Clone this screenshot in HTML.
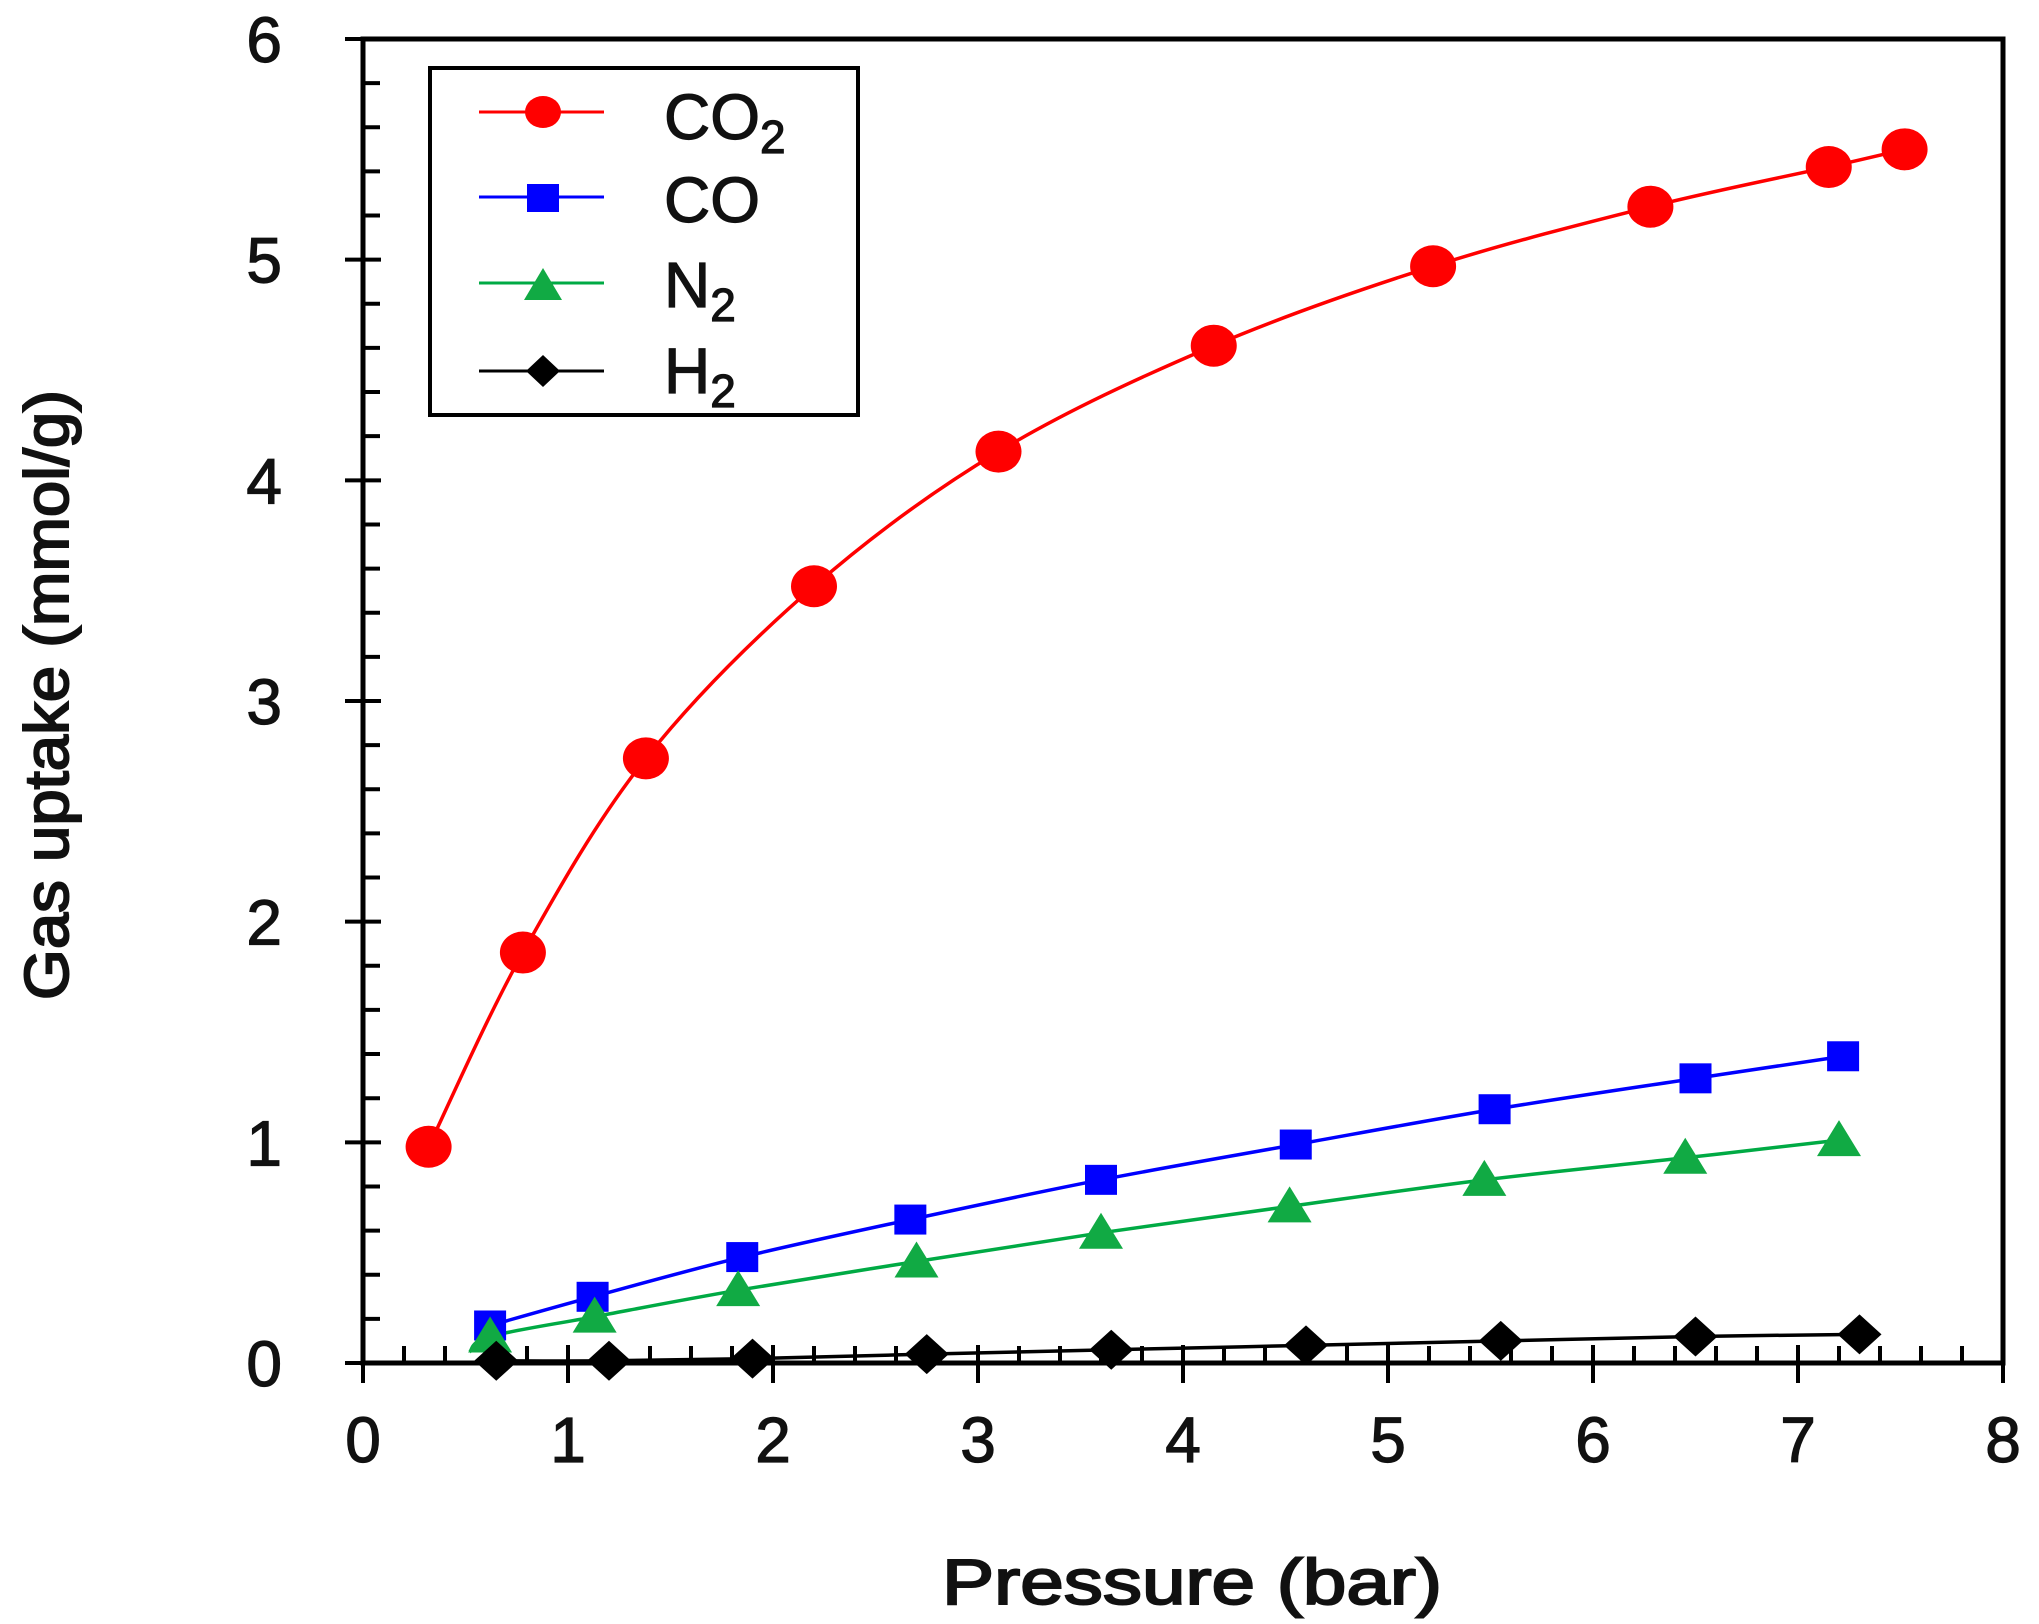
<!DOCTYPE html>
<html><head><meta charset="utf-8"><style>
html,body{margin:0;padding:0;background:#fff;}
svg{display:block;}
text{font-family:"Liberation Sans",Arial,sans-serif;font-weight:bold;fill:#111;}
.n{font-weight:normal;stroke:#111;stroke-width:1.2;}
</style></head><body>
<svg id="s" width="2039" height="1624" viewBox="0 0 2039 1624" xmlns="http://www.w3.org/2000/svg">
<rect width="2039" height="1624" fill="#fff"/>
<g id="g"></g>
<text x="1192" y="1604" font-size="64" text-anchor="middle" class="n" style="stroke-width:2" textLength="500" lengthAdjust="spacingAndGlyphs">Pressure (bar)</text>
<text transform="translate(68,695) rotate(-90)" font-size="62" text-anchor="middle" class="n" style="stroke-width:2" textLength="610" lengthAdjust="spacingAndGlyphs">Gas uptake (mmol/g)</text>
<rect x="430" y="68" width="428" height="347" fill="#fff" stroke="#000" stroke-width="4"/>
<line x1="479" y1="112" x2="604" y2="112" stroke="#f00" stroke-width="3"/>
<ellipse cx="543" cy="112" rx="18" ry="16" fill="#f00"/>
<line x1="479" y1="197" x2="604" y2="197" stroke="#00f" stroke-width="3"/>
<rect x="527" y="184" width="32" height="28" fill="#00f"/>
<line x1="479" y1="283" x2="604" y2="283" stroke="#0a4" stroke-width="3"/>
<polygon points="543,268 524,300 562,300" fill="#1a4"/>
<line x1="479" y1="371" x2="604" y2="371" stroke="#000" stroke-width="3"/>
<polygon points="543,355 560,371 543,387 526,371" fill="#000"/>
<text x="664" y="139" font-size="64" class="n">CO<tspan font-size="46" dy="14">2</tspan></text>
<text x="664" y="222" font-size="64" class="n">CO</text>
<text x="664" y="307" font-size="64" class="n">N<tspan font-size="46" dy="14">2</tspan></text>
<text x="664" y="393" font-size="64" class="n">H<tspan font-size="46" dy="14">2</tspan></text>
</svg>
<script>
var X0=363,XU=205,Y0=1363,YU=220.67;
function px(x){return X0+x*XU;} function py(y){return Y0-y*YU;}
var h='';
h+='<rect x="363" y="39" width="1640" height="1324" fill="none" stroke="#000" stroke-width="5"/>';
for(var i=0;i<=30;i++){var y=py(i*0.2);var maj=i%5==0;
 h+='<line x1="'+(maj?345:363)+'" y1="'+y+'" x2="'+(maj?381:380)+'" y2="'+y+'" stroke="#000" stroke-width="4"/>';
 if(maj)h+='<text x="282" y="'+(y+23)+'" font-size="64" text-anchor="end" class="n">'+(i/5)+'</text>';}
for(var i=0;i<=40;i++){var x=px(i*0.2);var maj=i%5==0;
 h+='<line x1="'+x+'" y1="'+(maj?1345:1346)+'" x2="'+x+'" y2="'+(maj?1383:1363)+'" stroke="#000" stroke-width="4"/>';
 if(maj)h+='<text x="'+x+'" y="'+1462+'" font-size="64" text-anchor="middle" class="n">'+(i/5)+'</text>';}
function curve(p){var pts=p.map(function(a){return [px(a[0]),py(a[1])];});
 var d='M'+pts[0][0]+','+pts[0][1];
 for(var i=0;i<pts.length-1;i++){var p0=pts[i-1]||pts[i],p1=pts[i],p2=pts[i+1],p3=pts[i+2]||p2;
  d+=' C'+(p1[0]+(p2[0]-p0[0])/6)+','+(p1[1]+(p2[1]-p0[1])/6)+' '+(p2[0]-(p3[0]-p1[0])/6)+','+(p2[1]-(p3[1]-p1[1])/6)+' '+p2[0]+','+p2[1];}
 return d;}
var co2=[[0.32,0.98],[0.78,1.86],[1.38,2.74],[2.2,3.52],[3.1,4.13],[4.15,4.61],[5.22,4.97],[6.28,5.24],[7.15,5.42],[7.52,5.5]];
var co=[[0.62,0.17],[1.12,0.3],[1.85,0.48],[2.67,0.65],[3.6,0.83],[4.55,0.99],[5.52,1.15],[6.5,1.29],[7.22,1.39]];
var n2=[[0.62,0.12],[1.13,0.21],[1.83,0.33],[2.7,0.46],[3.6,0.59],[4.52,0.71],[5.47,0.83],[6.45,0.93],[7.2,1.01]];
var h2=[[0.65,0.01],[1.2,0.01],[1.9,0.02],[2.75,0.04],[3.65,0.06],[4.6,0.08],[5.55,0.1],[6.5,0.12],[7.3,0.13]];
h+='<path d="'+curve(co2)+'" fill="none" stroke="#f00" stroke-width="3.5"/>';
h+='<path d="'+curve(co)+'" fill="none" stroke="#00f" stroke-width="3.5"/>';
h+='<path d="'+curve([[0.52,0.05]].concat(n2))+'" fill="none" stroke="#0a4" stroke-width="3.5"/>';
h+='<path d="'+curve(h2)+'" fill="none" stroke="#000" stroke-width="3.5"/>';
co2.forEach(function(a){h+='<ellipse cx="'+px(a[0])+'" cy="'+py(a[1])+'" rx="23" ry="21" fill="#f00"/>';});
co.forEach(function(a){h+='<rect x="'+(px(a[0])-16)+'" y="'+(py(a[1])-15)+'" width="32" height="30" fill="#00f"/>';});
n2.forEach(function(a){var x=px(a[0]),y=py(a[1]);h+='<polygon points="'+x+','+(y-20)+' '+(x-22)+','+(y+16)+' '+(x+22)+','+(y+16)+'" fill="#1a4"/>';});
h2.forEach(function(a){var x=px(a[0]),y=py(a[1]);h+='<polygon points="'+x+','+(y-20)+' '+(x+22)+','+y+' '+x+','+(y+20)+' '+(x-22)+','+y+'" fill="#000"/>';});
document.getElementById('g').innerHTML=h;
</script>
</body></html>
